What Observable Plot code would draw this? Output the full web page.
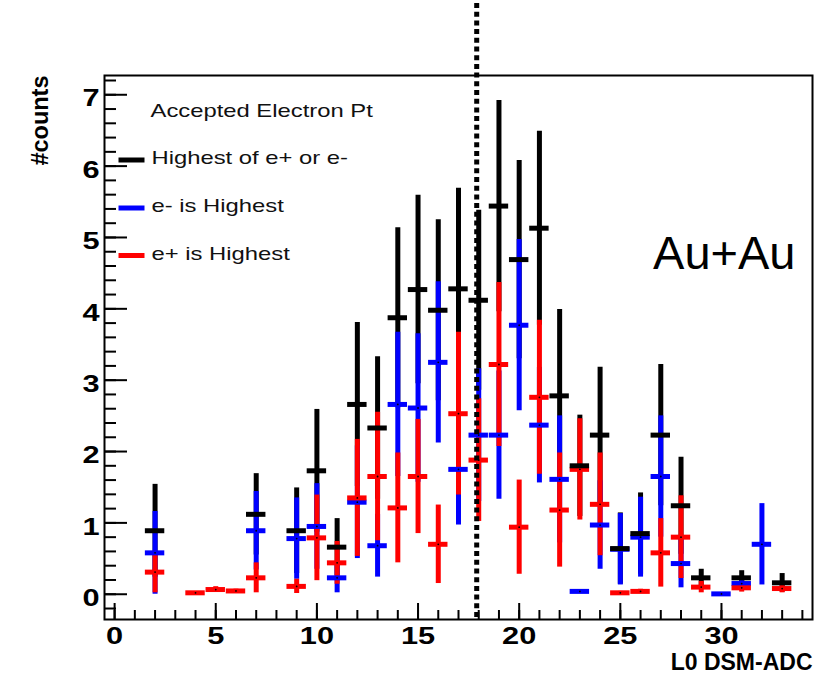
<!DOCTYPE html>
<html><head><meta charset="utf-8">
<script src="https://cdn.jsdelivr.net/npm/d3@7"></script>
<script src="https://cdn.jsdelivr.net/npm/@observablehq/plot@0.6"></script>
<style>body{margin:0;background:#fff;} svg{display:block;}</style>
</head><body><div id="chart"></div>
<script>
// ---- data ----
const blackX   = [2, 7, 9, 10, 11, 12, 13, 14, 15, 16, 17, 18, 19, 20, 21, 22, 23, 24, 25, 26, 27, 28, 29, 31, 33];
const blackY   = [0.89, 1.12, 0.89, 1.73, 0.66, 2.66, 2.33, 3.875, 4.27, 3.98, 4.28, 4.12, 5.44, 4.69, 5.13, 2.78, 1.80, 2.23, 0.64, 0.85, 2.23, 1.24, 0.23, 0.23, 0.16];
const blackErr = [0.65, 0.57, 0.60, 0.86, 0.40, 1.15, 1.00, 1.26, 1.32, 1.27, 1.41, 1.26, 1.48, 1.39, 1.36, 1.21, 0.71, 0.95, 0.50, 0.57, 0.99, 0.68, 0.12, 0.10, 0.13];

const blueX    = [2, 7, 9, 10, 11, 12, 13, 14, 15, 16, 17, 18, 19, 20, 21, 22, 23, 24, 25, 26, 27, 28, 30, 31, 32];
const blueY    = [0.58, 0.89, 0.78, 0.95, 0.23, 1.29, 0.68, 2.66, 2.61, 3.25, 1.75, 2.23, 2.23, 3.77, 2.37, 1.61, 0.04, 0.97, 0.63, 0.80, 1.65, 0.43, 0.005, 0.15, 0.70];
const blueErr  = [0.58, 0.55, 0.57, 0.60, 0.21, 0.79, 0.44, 1.01, 1.04, 1.13, 0.78, 0.93, 0.90, 1.20, 0.81, 0.89, 0.01, 0.62, 0.50, 0.56, 0.85, 0.34, 0.0, 0.08, 0.57];

const redX     = [2, 4, 5, 6, 7, 9, 10, 11, 12, 13, 14, 15, 16, 17, 18, 19, 20, 21, 22, 23, 24, 25, 26, 27, 28, 29, 31, 33];
const redY     = [0.31, 0.02, 0.066, 0.046, 0.23, 0.11, 0.79, 0.44, 1.35, 1.65, 1.21, 1.65, 0.70, 2.53, 1.88, 3.22, 0.94, 2.76, 1.18, 1.75, 1.26, 0.02, 0.04, 0.58, 0.80, 0.10, 0.09, 0.08];
const redErr   = [0.29, 0.015, 0.04, 0.025, 0.21, 0.10, 0.60, 0.30, 0.82, 0.90, 0.77, 0.80, 0.55, 1.14, 0.86, 1.15, 0.66, 1.08, 0.80, 0.71, 0.72, 0.02, 0.03, 0.48, 0.58, 0.08, 0.06, 0.06];

const xTickLabels = [0, 5, 10, 15, 20, 25, 30];
const yTickLabels = [0, 1, 2, 3, 4, 5, 6, 7];
const xMinorTicks = d3.range(0, 35);
const yMinorTicks = d3.range(-1, 37).map(i => i / 5);
const cutX = [17.9];

const legendTitle = "Accepted Electron Pt";
const legendLabels = ["Highest of e+ or e-", "e- is Highest", "e+ is Highest"];
const seriesColors = ["#000000", "#0000ff", "#ff0000"];
const annotation = "Au+Au";
const xTitle = "L0 DSM-ADC";
const yTitle = "#counts";

// ---- layout ----
const W = 823, H = 678, ML = 104, MR = 11, MT = 75, MB = 59;
const innerW = W - ML - MR, innerH = H - MT - MB;
const halfBin = 0.48;
const STRETCH = 1.28;

const rows = (xs, ys, es) => xs.map((x, i) => ({x, y: ys[i], e: es[i]}));
const black = rows(blackX, blackY, blackErr);
const blue = rows(blueX, blueY, blueErr);
const red = rows(redX, redY, redErr);

const vbar = (data, color) => Plot.ruleX(data, {x: "x", y1: d => d.y - d.e, y2: d => d.y + d.e, stroke: color, strokeWidth: 5});
const hbar = (data, color) => Plot.ruleY(data, {y: "y", x1: d => d.x - halfBin, x2: d => d.x + halfBin, stroke: color, strokeWidth: 5});

const swatch = {draw(ctx) { ctx.rect(-13, -2.5, 26, 5); }};
const FONT = "Liberation Sans, Arial, sans-serif";

const legendMarks = [];
legendMarks.push(Plot.text([legendTitle], {frameAnchor: "top-left", dx: 46, dy: 36, text: d => d, textAnchor: "start", lineAnchor: "middle",
  fontSize: 18.6, fill: "#111", fontFamily: FONT, ariaDescription: "stretch"}));
legendLabels.forEach((t, i) => {
  const dy = [83, 131, 178.5][i];
  legendMarks.push(Plot.dot([t], {frameAnchor: "top-left", dx: 27, dy: dy + 1.5, symbol: swatch, fill: seriesColors[i], stroke: "none", r: 3}));
  legendMarks.push(Plot.text([t], {frameAnchor: "top-left", dx: 47, dy, text: d => d, textAnchor: "start", lineAnchor: "middle",
    fontSize: 18.6, fill: "#111", fontFamily: FONT, ariaDescription: "stretch"}));
});

const chart = Plot.plot({
  width: W, height: H,
  marginLeft: ML, marginRight: MR, marginTop: MT, marginBottom: MB,
  style: {background: "#fff", fontFamily: FONT, overflow: "visible"},
  x: {domain: [-0.5, 34.5], axis: null},
  y: {domain: [-0.354, 7.27], axis: null},
  marks: [
    Plot.frame({stroke: "#000", strokeWidth: 2}),
    Plot.tickX(xMinorTicks, {x: d => d, insetTop: innerH - 9, stroke: "#000", strokeWidth: 2}),
    Plot.tickX(xTickLabels, {x: d => d, insetTop: innerH - 16, stroke: "#000", strokeWidth: 2}),
    Plot.tickY(yMinorTicks, {y: d => d, insetRight: innerW - 12, stroke: "#000", strokeWidth: 2}),
    Plot.tickY(yTickLabels, {y: d => d, insetRight: innerW - 23, stroke: "#000", strokeWidth: 2}),
    vbar(black, seriesColors[0]),
    vbar(blue, seriesColors[1]),
    vbar(red, seriesColors[2]),
    hbar(blue, seriesColors[1]),
    hbar(red, seriesColors[2]),
    hbar(black, seriesColors[0]),
    Plot.dot([...black, ...blue, ...red], {x: "x", y: "y", r: 0.9, fill: "#000", stroke: "none"}),
    Plot.ruleX(cutX, {x: d => d, insetTop: -72, insetBottom: 2, stroke: "#000", strokeWidth: 5, strokeDasharray: "5 3.7"}),
    Plot.text(xTickLabels, {x: d => d, frameAnchor: "bottom", dy: 17, lineAnchor: "middle", text: d => String(d), fontSize: 24, fontWeight: "bold", fill: "#000", ariaDescription: "stretch"}),
    Plot.text(yTickLabels, {y: d => d, frameAnchor: "left", dx: -5, dy: 4, lineAnchor: "middle", textAnchor: "end", text: d => String(d), fontSize: 24, fontWeight: "bold", fill: "#000", ariaDescription: "stretch"}),
    Plot.text([xTitle], {frameAnchor: "bottom-right", dy: 43, lineAnchor: "middle", textAnchor: "end", text: d => d, fontSize: 23, fontWeight: "bold", fill: "#000"}),
    Plot.text([yTitle], {frameAnchor: "top-left", dx: -64, dy: 0, rotate: -90, lineAnchor: "middle", textAnchor: "end", text: d => d, fontSize: 23.5, fontWeight: "bold", fill: "#000"}),
    ...legendMarks,
    Plot.text([annotation], {frameAnchor: "top-right", dx: -17, dy: 178, lineAnchor: "middle", textAnchor: "end", text: d => d, fontSize: 47, fill: "#000"})
  ]
});
document.getElementById("chart").appendChild(chart);

// horizontally widen the ROOT-style texts like in the reference picture
chart.querySelectorAll('g[aria-description="stretch"] text').forEach(t => {
  const L = t.getComputedTextLength();
  t.setAttribute("textLength", (L * STRETCH).toFixed(1));
  t.setAttribute("lengthAdjust", "spacingAndGlyphs");
});
</script>
</body></html>
